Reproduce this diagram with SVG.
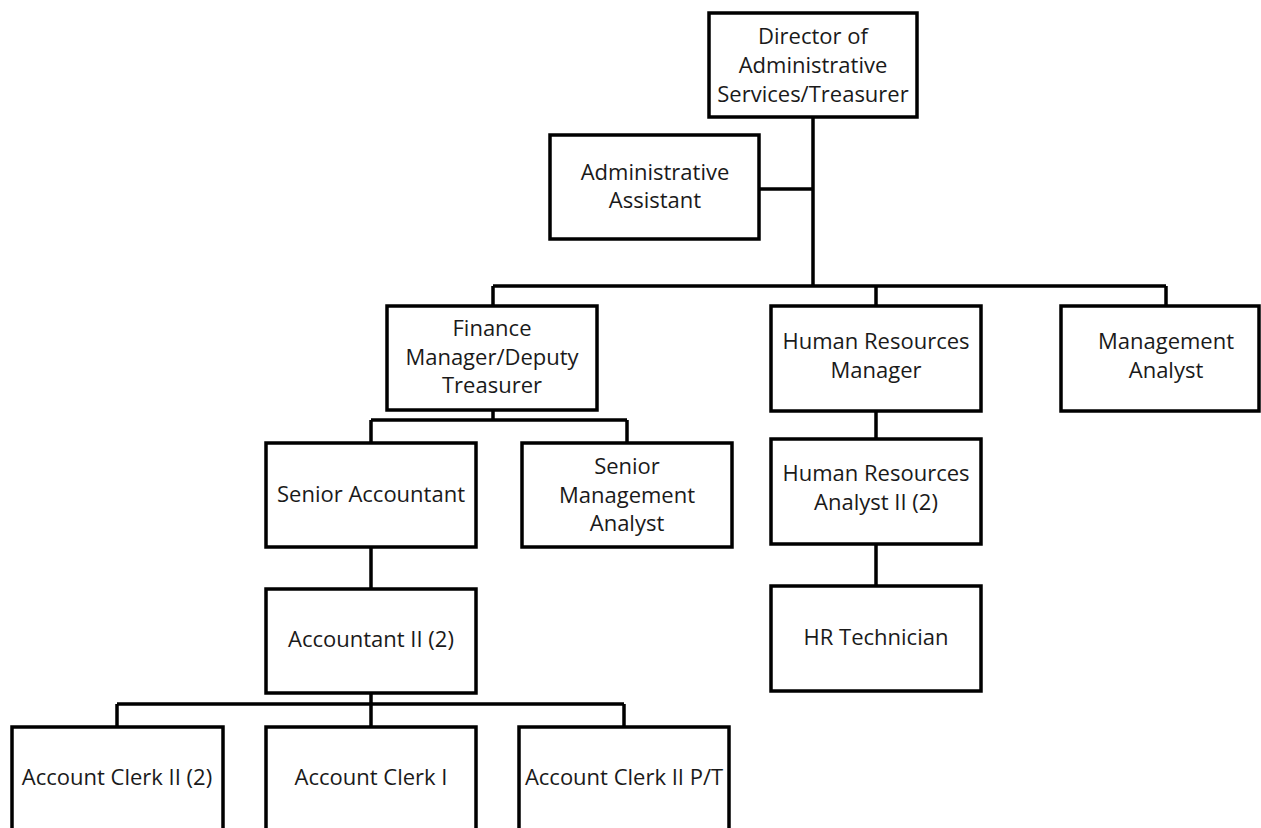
<svg xmlns="http://www.w3.org/2000/svg" width="1261" height="828" viewBox="0 0 1261 828">
<style>
.box{fill:#fff;stroke:#000;stroke-width:3.5}
.c{fill:none;stroke:#000;stroke-width:3.5}
text{font-family:"Open Sans","Noto Sans",sans-serif;font-size:22px;fill:#1a1a1a;text-anchor:middle}
</style>
<rect width="1261" height="828" fill="#fff"/>
<g id="connectors">
<path class="c" d="M813,117V286M760,189H813M493,286H1166M493,286V306M876,286V306M1166,286V306"/>
<path class="c" d="M493,410V420M371,420H627M371,420V443M627,420V443"/>
<path class="c" d="M876,411V439M876,544V586"/>
<path class="c" d="M371,547V589M371,693V704M117,704H624M117,704V727M371,704V727M624,704V727"/>
</g>
<g id="director"><rect class="box" x="709" y="13" width="208" height="104"/><text x="813" y="44">Director of</text><text x="813" y="73">Administrative</text><text x="813" y="102">Services/Treasurer</text></g>
<g id="admin-assistant"><rect class="box" x="550" y="135" width="209" height="104"/><text x="655" y="180">Administrative</text><text x="655" y="208">Assistant</text></g>
<g id="finance-manager"><rect class="box" x="387" y="306" width="210" height="104"/><text x="492" y="336">Finance</text><text x="492" y="365">Manager/Deputy</text><text x="492" y="393">Treasurer</text></g>
<g id="hr-manager"><rect class="box" x="771" y="306" width="210" height="105"/><text x="876" y="349">Human Resources</text><text x="876" y="378">Manager</text></g>
<g id="management-analyst"><rect class="box" x="1061" y="306" width="198" height="105"/><text x="1166" y="349">Management</text><text x="1166" y="378">Analyst</text></g>
<g id="senior-accountant"><rect class="box" x="266" y="443" width="210" height="104"/><text x="371" y="502">Senior Accountant</text></g>
<g id="senior-management-analyst"><rect class="box" x="522" y="443" width="210" height="104"/><text x="627" y="474">Senior</text><text x="627" y="503">Management</text><text x="627" y="531">Analyst</text></g>
<g id="hr-analyst"><rect class="box" x="771" y="439" width="210" height="105"/><text x="876" y="481">Human Resources</text><text x="876" y="510">Analyst II (2)</text></g>
<g id="hr-technician"><rect class="box" x="771" y="586" width="210" height="105"/><text x="876" y="645">HR Technician</text></g>
<g id="accountant-ii"><rect class="box" x="266" y="589" width="210" height="104"/><text x="371" y="647">Accountant II (2)</text></g>
<g id="account-clerk-ii"><rect class="box" x="12" y="727" width="211" height="110"/><text x="117" y="785">Account Clerk II (2)</text></g>
<g id="account-clerk-i"><rect class="box" x="266" y="727" width="210" height="110"/><text x="371" y="785">Account Clerk I</text></g>
<g id="account-clerk-ii-pt"><rect class="box" x="519" y="727" width="210" height="110"/><text x="624" y="785">Account Clerk II P/T</text></g>
</svg>
